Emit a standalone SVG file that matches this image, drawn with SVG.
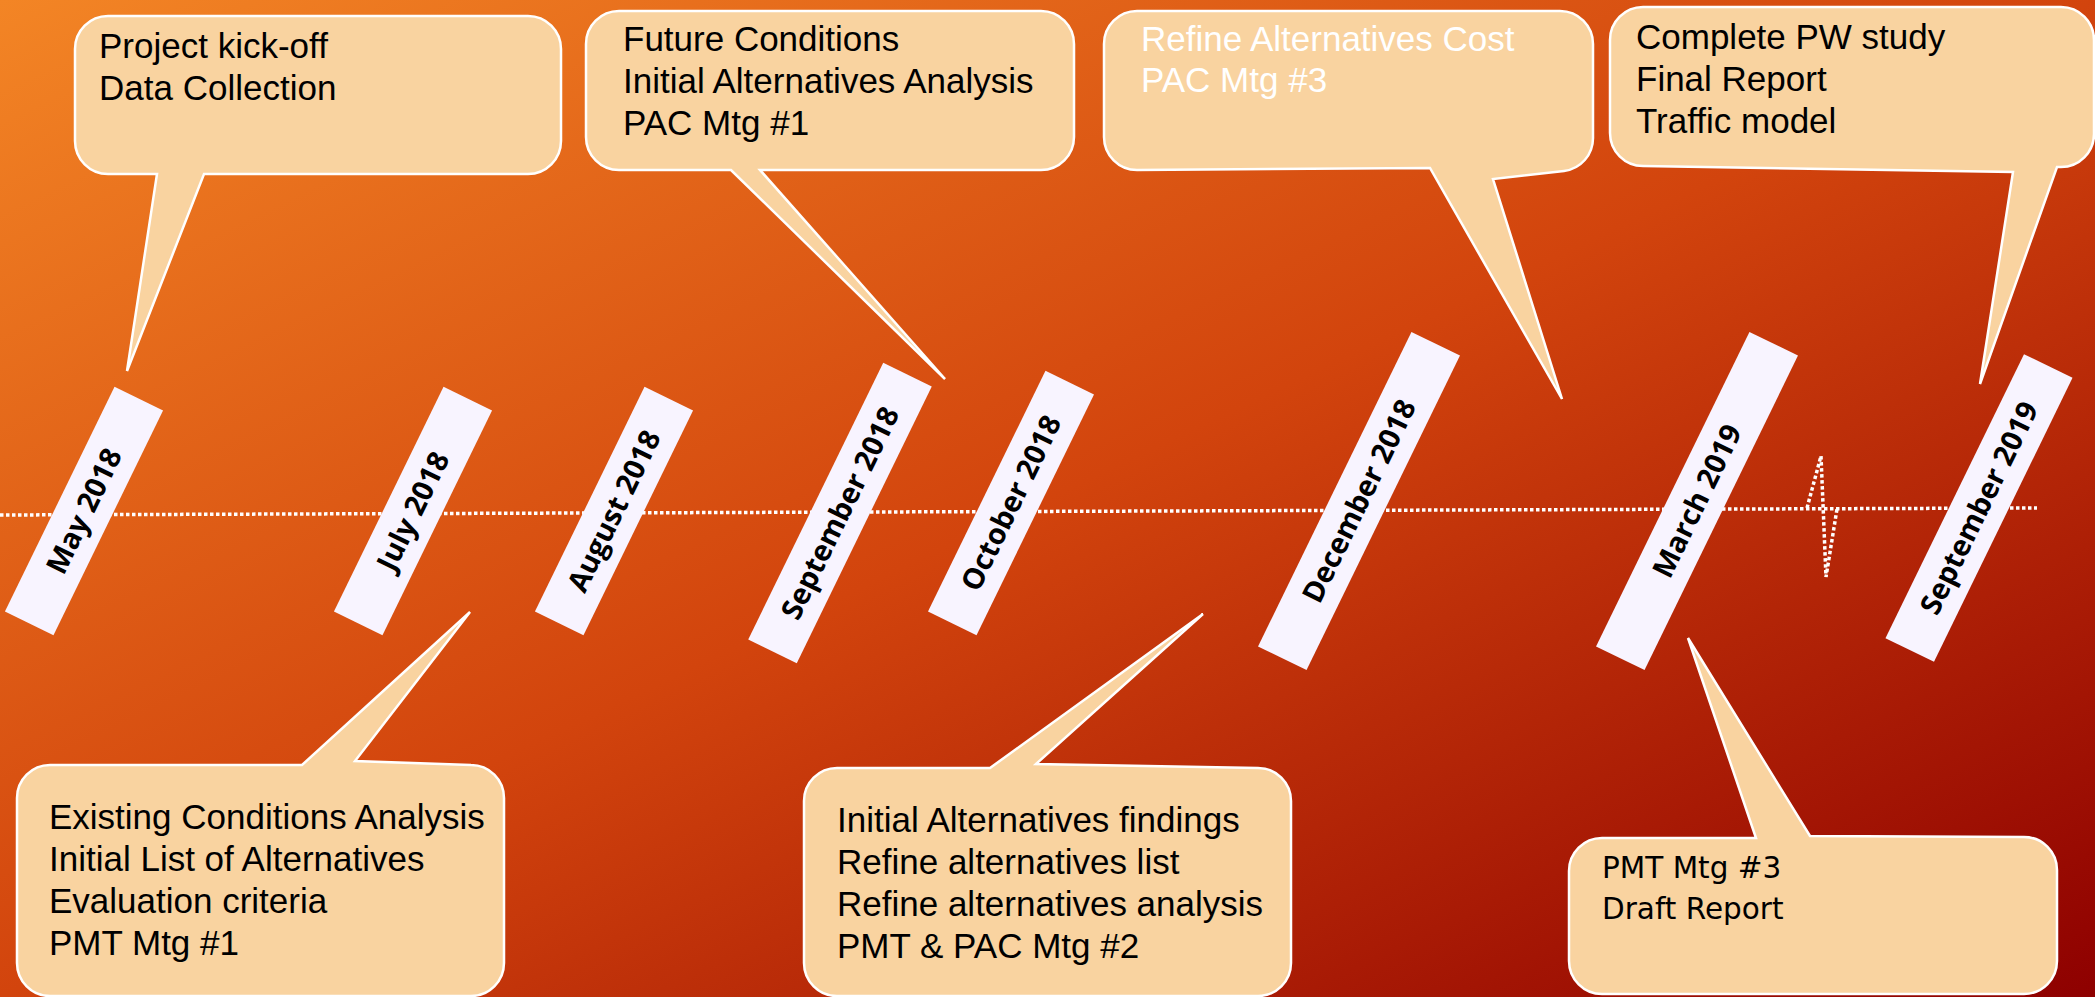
<svg xmlns="http://www.w3.org/2000/svg" width="2095" height="997" viewBox="0 0 2095 997">
<defs>
<linearGradient id="bg" x1="0" y1="0" x2="1" y2="1">
<stop offset="0" stop-color="#F38525"/>
<stop offset="0.5" stop-color="#D2440D"/>
<stop offset="1" stop-color="#8E0000"/>
</linearGradient>
<style>
.co{fill:#F9D3A0;stroke:#FFFFFF;stroke-width:2.5;stroke-linejoin:miter}
.t{font-family:"Liberation Sans",Arial,sans-serif;font-size:35px;fill:#000}
.tw{fill:#FFFFFF}
.t2{font-family:"DejaVu Sans",Verdana,sans-serif;font-size:29.5px;fill:#000}
.lab{fill:#F8F4FF}
.lt{font-family:"Open Sans","DejaVu Sans",sans-serif;font-weight:700;font-size:29px;fill:#000;text-anchor:middle}
.dot{fill:none;stroke:#FFFFFF;stroke-width:3.5;stroke-dasharray:3.5 2.5}
</style>
</defs>
<rect x="0" y="0" width="2095" height="997" fill="url(#bg)"/>

<g id="connectors">
<path class="dot" d="M0,515 L2037,508"/>
<path class="dot" d="M1807,508 L1821,456 L1826,577 L1837,509"/>
</g>

<g id="callout-kickoff">
<path class="co" d="M108,16 H528 A33 33 0 0 1 561,49 V141 A33 33 0 0 1 528,174 H204 L127,371 L157,174 H108 A33 33 0 0 1 75,141 V49 A33 33 0 0 1 108,16 Z"/>
<text class="t" x="99" y="58">Project kick-off</text>
<text class="t" x="99" y="100">Data Collection</text>
</g>

<g id="callout-future">
<path class="co" d="M619,11 H1041 A33 33 0 0 1 1074,44 V137 A33 33 0 0 1 1041,170 H760 L945,379 L731,170 H619 A33 33 0 0 1 586,137 V44 A33 33 0 0 1 619,11 Z"/>
<text class="t" x="623" y="51">Future Conditions</text>
<text class="t" x="623" y="93">Initial Alternatives Analysis</text>
<text class="t" x="623" y="135">PAC Mtg #1</text>
</g>

<g id="callout-refine-cost">
<path class="co" d="M1137,11 H1560 A33 33 0 0 1 1593,44 V138 A33 33 0 0 1 1564,171 L1493,179 L1562,399 L1430,168 L1137,170 A33 33 0 0 1 1104,137 V44 A33 33 0 0 1 1137,11 Z"/>
<text class="t tw" x="1141" y="51">Refine Alternatives Cost</text>
<text class="t tw" x="1141" y="92">PAC Mtg #3</text>
</g>

<g id="callout-final">
<path class="co" d="M1643,7 H2061 A33 33 0 0 1 2094,40 V134 A33 33 0 0 1 2061,167 H2057 L1980,384 L2013,172 L1643,166 A33 33 0 0 1 1610,133 V40 A33 33 0 0 1 1643,7 Z"/>
<text class="t" x="1636" y="49">Complete PW study</text>
<text class="t" x="1636" y="91">Final Report</text>
<text class="t" x="1636" y="133">Traffic model</text>
</g>

<g id="callout-existing">
<path class="co" d="M50,765 H302 L470,612 L355,761 L471,765 A33 33 0 0 1 504,798 V963 A33 33 0 0 1 471,996 H50 A33 33 0 0 1 17,963 V798 A33 33 0 0 1 50,765 Z"/>
<text class="t" x="49" y="829">Existing Conditions Analysis</text>
<text class="t" x="49" y="871">Initial List of Alternatives</text>
<text class="t" x="49" y="913">Evaluation criteria</text>
<text class="t" x="49" y="955">PMT Mtg #1</text>
</g>

<g id="callout-findings">
<path class="co" d="M837,768 H990 L1203,614 L1036,764 L1258,768 A33 33 0 0 1 1291,801 V963 A33 33 0 0 1 1258,996 H837 A33 33 0 0 1 804,963 V801 A33 33 0 0 1 837,768 Z"/>
<text class="t" x="837" y="832">Initial Alternatives findings</text>
<text class="t" x="837" y="874">Refine alternatives list</text>
<text class="t" x="837" y="916">Refine alternatives analysis</text>
<text class="t" x="837" y="958">PMT &amp; PAC Mtg #2</text>
</g>

<g id="callout-draft">
<path class="co" d="M1602,838 H1756 L1688,638 L1810,836 L2024,837 A33 33 0 0 1 2057,870 V961 A33 33 0 0 1 2024,994 H1602 A33 33 0 0 1 1569,961 V871 A33 33 0 0 1 1602,838 Z"/>
<text class="t2" x="1602" y="878">PMT Mtg #3</text>
<text class="t2" x="1602" y="919">Draft Report</text>
</g>

<g id="label-may2018" transform="translate(84,511) rotate(-64)">
<rect class="lab" x="-125" y="-27" width="250" height="54"/>
<text class="lt" x="0" y="0" dy="0.35em">May 2018</text>
</g>
<g id="label-jul2018" transform="translate(413,511) rotate(-64)">
<rect class="lab" x="-125" y="-27" width="250" height="54"/>
<text class="lt" x="0" y="0" dy="0.35em">July 2018</text>
</g>
<g id="label-aug2018" transform="translate(614,511) rotate(-64)">
<rect class="lab" x="-125" y="-27" width="250" height="54"/>
<text class="lt" x="0" y="0" dy="0.35em">August 2018</text>
</g>
<g id="label-sep2018" transform="translate(840,513) rotate(-64)">
<rect class="lab" x="-154" y="-27" width="308" height="54"/>
<text class="lt" x="0" y="0" dy="0.35em">September 2018</text>
</g>
<g id="label-oct2018" transform="translate(1011,503) rotate(-64)">
<rect class="lab" x="-134" y="-27" width="268" height="54"/>
<text class="lt" x="0" y="0" dy="0.35em">October 2018</text>
</g>
<g id="label-dec2018" transform="translate(1359,501) rotate(-64)">
<rect class="lab" x="-175" y="-27" width="350" height="54"/>
<text class="lt" x="0" y="0" dy="0.35em">December 2018</text>
</g>
<g id="label-mar2019" transform="translate(1697,501) rotate(-64)">
<rect class="lab" x="-175" y="-27" width="350" height="54"/>
<text class="lt" x="0" y="0" dy="0.35em">March 2019</text>
</g>
<g id="label-sep2019" transform="translate(1979,508) rotate(-64)">
<rect class="lab" x="-158" y="-27" width="316" height="54"/>
<text class="lt" x="0" y="0" dy="0.35em">September 2019</text>
</g>
</svg>
